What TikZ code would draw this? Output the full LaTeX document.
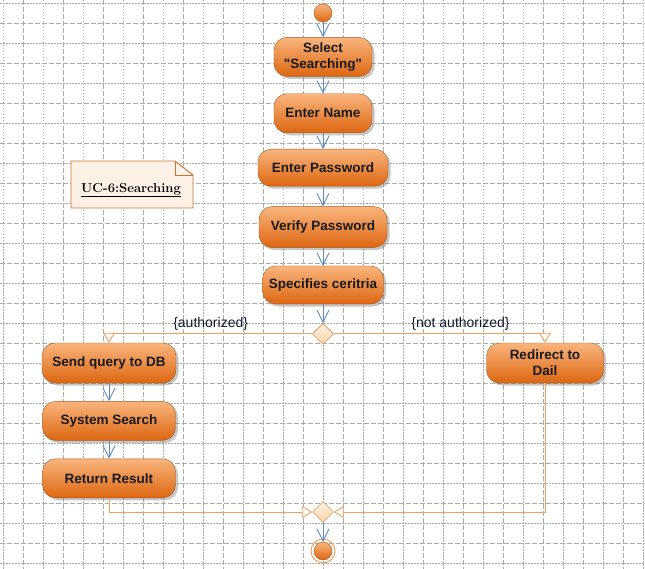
\documentclass[tikz,border=0pt]{standalone}
\usepackage{fontspec}
\setsansfont{Liberation Sans}
\usepackage{xcolor}
\usetikzlibrary{shapes, arrows.meta, positioning, shadows}

\definecolor{boxtop}{HTML}{F9B57E}
\definecolor{boxmid}{HTML}{EF8637}
\definecolor{boxbot}{HTML}{DC6610}
\definecolor{boxline}{HTML}{A85A1C}
\definecolor{flowblue}{HTML}{5A8AC8}
\definecolor{branchorange}{HTML}{F0A060}
\definecolor{gridgray}{HTML}{ABABAB}
\definecolor{notefill}{HTML}{FDF1E6}
\definecolor{noteline}{HTML}{C87533}
\definecolor{labelink}{HTML}{101830}

\begin{document}
\begin{tikzpicture}[x=1pt, y=-1pt,
    action/.style={draw=boxline, rectangle, rounded corners=13pt, top color=boxtop, middle color=boxmid, bottom color=boxbot, drop shadow={shadow xshift=2.5pt, shadow yshift=-2.5pt, opacity=0.45}, font=\sffamily\bfseries\fontsize{13.5}{16}\selectfont, text=black!90, align=center, inner sep=2pt},
    choice/.style={draw=noteline, diamond, top color=orange!10, bottom color=orange!35, minimum size=21pt, inner sep=0pt},
    flow/.style={draw=flowblue, line width=0.9pt, -{Straight Barb[length=12pt, width=12pt]}},
    branch/.style={draw=branchorange, line width=0.9pt, -{Triangle[length=10pt, width=12pt, fill=white]}},
    guard/.style={font=\sffamily\fontsize{14}{16}\selectfont, text=labelink}]

    \useasboundingbox (0,0) rectangle (645,569);

    % Grid
    \foreach \k in {0,...,16} {
        \draw[gridgray, line width=0.9pt, dash pattern=on 1.5pt off 1.5pt] (3+40*\k,0) -- (3+40*\k,569);
    }
    \foreach \k in {0,...,15} {
        \draw[gridgray, line width=0.9pt, dash pattern=on 5pt off 2pt] (23+40*\k,0) -- (23+40*\k,569);
    }
    \foreach \k in {0,...,14} {
        \draw[gridgray, line width=0.9pt, dash pattern=on 1.5pt off 1.5pt] (0,3+40*\k) -- (645,3+40*\k);
    }
    \foreach \k in {0,...,13} {
        \draw[gridgray, line width=0.9pt, dash pattern=on 5pt off 2pt] (0,23+40*\k) -- (645,23+40*\k);
    }

    % Nodes
    \node[circle, draw=boxline, top color=boxtop, bottom color=boxbot, minimum size=18pt, inner sep=0pt] (start) at (323,13) {};

    \node[action, minimum width=98pt, minimum height=39pt, below=15pt of start] (select) {Select\\\textquotedbl Searching\textquotedbl};
    \node[action, minimum width=98pt, minimum height=39pt, below=17pt of select] (name) {Enter Name};
    \node[action, minimum width=130pt, minimum height=37pt, below=16pt of name] (password) {Enter Password};
    \node[action, minimum width=128pt, minimum height=41pt, below=20pt of password] (verify) {Verify Password};
    \node[action, minimum width=121pt, minimum height=38pt, below=18pt of verify] (criteria) {Specifies ceritria};

    \node[choice, below=19pt of criteria] (decide) {};

    \node[action, minimum width=134pt, minimum height=40pt] (send) at (109,363) {Send query to DB};
    \node[action, minimum width=133pt, minimum height=39pt, below=18pt of send] (system) {System Search};
    \node[action, minimum width=133pt, minimum height=39pt, below=18pt of system] (result) {Return Result};

    \node[action, minimum width=117pt, minimum height=40pt] (redirect) at (545,363) {Redirect to\\Dail};

    \node[choice] (merge) at (323,512) {};

    \node[circle, draw=boxline, top color=boxtop, bottom color=boxbot, minimum size=18pt, inner sep=0pt] (stop) at (323,551) {};
    \draw[branchorange, line width=1pt] (stop.center) circle[radius=12pt];

    % Interactions
    \draw[flow] (start) -- (select);
    \draw[flow] (select) -- (name);
    \draw[flow] (name) -- (password);
    \draw[flow] (password) -- (verify);
    \draw[flow] (verify) -- (criteria);
    \draw[flow] (criteria) -- (decide);

    \draw[branch] (decide) -| node[guard, above, pos=0.25] {\{authorized\}} (send);
    \draw[branch] (decide) -| node[guard, above, pos=0.3] {\{not authorized\}} (redirect);

    \draw[flow] (send) -- (system);
    \draw[flow] (system) -- (result);

    \draw[branch] (result) |- (merge);
    \draw[branch] (redirect) |- (merge);
    \draw[flow] (merge) -- (stop);

    % Annotations
    \draw[noteline, fill=notefill, line width=0.9pt] (71,161) -- (175,161) -- (193,175) -- (193,208) -- (71,208) -- cycle;
    \draw[noteline, line width=0.9pt] (175,161) -- (175,175) -- (193,175);
    \node[font=\bfseries\fontsize{13}{15}\selectfont] (note) at (131,190) {\underline{UC-6:Searching}};

\end{tikzpicture}
\end{document}
